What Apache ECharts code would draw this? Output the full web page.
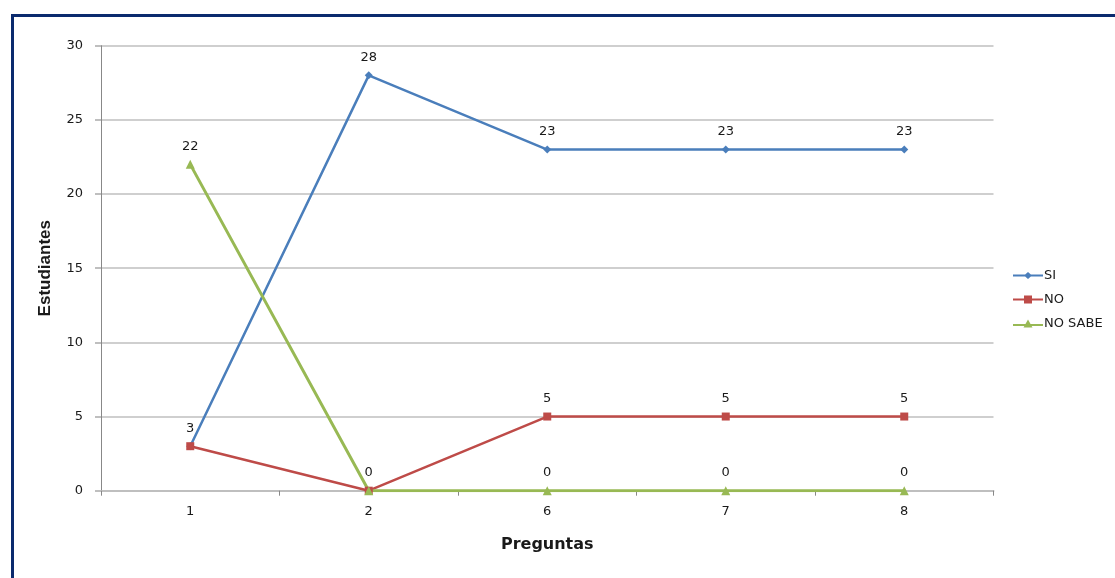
<!DOCTYPE html>
<html><head><meta charset="utf-8">
<script src="https://cdn.jsdelivr.net/npm/echarts@6/dist/echarts.min.js"></script>
<style>html,body{margin:0;padding:0;background:#fff}#c{width:1115px;height:578px}</style>
</head><body><div id="c"></div>
<script>
const categories = ['1', '2', '6', '7', '8'];
const siValues = [3, 28, 23, 23, 23];
const noValues = [3, 0, 5, 5, 5];
const noSabeValues = [22, 0, 0, 0, 0];
const yTicks = { min: 0, max: 30, interval: 5 };

const chart = echarts.init(document.getElementById('c'), null, { renderer: 'canvas' });
const labelFont = { show: true, position: 'top', distance: 7, color: '#1a1a1a', fontFamily: 'DejaVu Sans', fontSize: 13 };
function mk(name, data, color, symbol, size, width) {
  return {
    name, type: 'line', data, symbol, symbolSize: size, showAllSymbol: true,
    lineStyle: { color, width }, itemStyle: { color },
    label: labelFont, labelLayout: { hideOverlap: true }, animation: false
  };
}
chart.setOption({
  animation: false,
  graphic: [{
    type: 'rect', left: 10, top: 13, shape: { width: 1200, height: 700 },
    style: { fill: 'none', stroke: '#0b2a6e', lineWidth: 3 }, silent: true, z: -1
  }],
  grid: { left: 101, right: 121.5, top: 45.7, bottom: 87.3 },
  legend: {
    orient: 'vertical', left: 1008, top: 264, itemWidth: 30, itemHeight: 8, itemGap: 11,
    textStyle: { fontFamily: 'DejaVu Sans', fontSize: 13, color: '#1a1a1a', padding: [0, 0, 0, -4] },
    data: [
      { name: 'SI', icon: 'path://M0,3.1L30,3.1L30,4.9L0,4.9Z M11,4L15,0.5L19,4L15,7.5Z' },
      { name: 'NO', icon: 'path://M0,3.1L30,3.1L30,4.9L0,4.9Z M11,0L19,0L19,8L11,8Z' },
      { name: 'NO SABE', icon: 'path://M0,4.6L30,4.6L30,6.6L0,6.6Z M10.5,8L15,0L19.5,8Z' }
    ]
  },
  xAxis: {
    type: 'category', data: categories, boundaryGap: true,
    name: 'Preguntas', nameLocation: 'middle', nameGap: 46,
    nameTextStyle: { fontFamily: 'DejaVu Sans', fontWeight: 'bold', fontSize: 16, color: '#1a1a1a' },
    axisLine: { lineStyle: { color: '#bfbfbf', width: 2 } },
    axisTick: { show: true, alignWithLabel: false, length: 5, lineStyle: { color: '#888' } },
    axisLabel: { margin: 14, fontFamily: 'DejaVu Sans', fontSize: 13, color: '#1a1a1a' },
    splitLine: { show: false }
  },
  yAxis: {
    type: 'value', min: yTicks.min, max: yTicks.max, interval: yTicks.interval,
    name: 'Estudiantes', nameLocation: 'middle', nameGap: 47, nameRotate: 90,
    nameTextStyle: { fontFamily: 'Liberation Sans Narrow, Liberation Sans', fontWeight: 'bold', fontSize: 17, color: '#1a1a1a' },
    axisLine: { show: true, lineStyle: { color: '#888', width: 1 } },
    axisTick: { show: true, inside: false, length: 6, lineStyle: { color: '#bfbfbf', width: 2 } },
    axisLabel: { margin: 18, fontFamily: 'DejaVu Sans', fontSize: 13, color: '#1a1a1a' },
    splitLine: { show: true, lineStyle: { color: '#bfbfbf', width: 1.5 } }
  },
  series: [
    mk('SI', siValues, '#4a7ebb', 'diamond', 8, 2.5),
    mk('NO', noValues, '#be4b48', 'rect', 8, 2.5),
    mk('NO SABE', noSabeValues, '#98b954', 'triangle', 9, 3)
  ]
});
</script></body></html>
